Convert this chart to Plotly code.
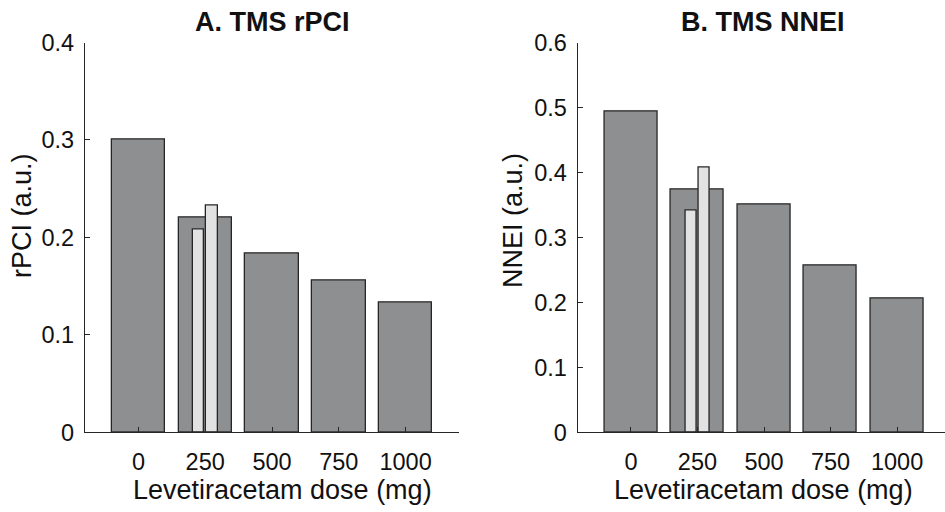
import plotly.graph_objects as go

# Levetiracetam doses (mg) and group means
doses = [0, 250, 500, 750, 1000]
dose_labels = ["0", "250", "500", "750", "1000"]

rpci_mean = [0.300, 0.220, 0.183, 0.156, 0.133]
rpci_250_split = [0.208, 0.233]          # two sub-groups at 250 mg

nnei_mean = [0.494, 0.374, 0.351, 0.256, 0.206]
nnei_250_split = [0.341, 0.408]

split_offsets = [-25, 25]                # mg offset of the two thin bars
split_x = [250 + o for o in split_offsets]

DARK = "#8e8f91"
LIGHT = "#e2e2e2"
EDGE = "#262626"
FONT = "Liberation Sans, Arial, sans-serif"

fig = go.Figure()

def add_panel(xa, ya, means, split):
    fig.add_trace(go.Bar(x=doses, y=means, width=200, marker=dict(color=DARK, line=dict(color=EDGE, width=1.3)),
                         xaxis=xa, yaxis=ya, showlegend=False, hoverinfo="skip"))
    fig.add_trace(go.Bar(x=split_x, y=split, width=42, marker=dict(color=LIGHT, line=dict(color=EDGE, width=1.3)),
                         xaxis=xa, yaxis=ya, showlegend=False, hoverinfo="skip"))

add_panel("x", "y", rpci_mean, rpci_250_split)
add_panel("x2", "y2", nnei_mean, nnei_250_split)

ydom = [1 - 432.3 / 512, 1 - 42.5 / 512]

xcommon = dict(showline=True, linecolor=EDGE, linewidth=1.2, ticks="inside", ticklen=5, tickwidth=1.2,
               tickcolor=EDGE, tickvals=doses, ticktext=dose_labels, showgrid=False, zeroline=False,
               tickfont=dict(family=FONT, size=23.5, color="#111"), ticklabelstandoff=8,
               automargin=False, fixedrange=True)
ycommon = dict(showline=True, linecolor=EDGE, linewidth=1.2, ticks="inside", ticklen=5, tickwidth=1.2,
               tickcolor=EDGE, showgrid=False, zeroline=False,
               tickfont=dict(family=FONT, size=23.5, color="#111"), ticklabelstandoff=5,
               automargin=False, fixedrange=True)

fig.update_layout(
    width=945, height=512, margin=dict(l=0, r=0, t=0, b=0, autoexpand=False),
    paper_bgcolor="white", plot_bgcolor="white", barmode="overlay", bargap=0,
    xaxis=dict(domain=[85 / 945, 459 / 945], range=[-200, 1200], anchor="y", **xcommon),
    yaxis=dict(domain=ydom, range=[0, 0.4], tickvals=[0, 0.1, 0.2, 0.3, 0.4],
               ticktext=["0", "0.1", "0.2", "0.3", "0.4"], anchor="x", **ycommon),
    xaxis2=dict(domain=[577.7 / 945, 1.0], range=[-200, 1180], anchor="y2", **xcommon),
    yaxis2=dict(domain=ydom, range=[0, 0.6], tickvals=[0, 0.1, 0.2, 0.3, 0.4, 0.5, 0.6],
                ticktext=["0", "0.1", "0.2", "0.3", "0.4", "0.5", "0.6"], anchor="x2", **ycommon),
)

def px_x(p):
    return p / 945

def px_y(p):
    return 1 - p / 512

texts = [
    dict(text="<b>A. TMS rPCI</b>", x=px_x(272), y=px_y(22), size=27, angle=0),
    dict(text="<b>B. TMS NNEI</b>", x=px_x(763), y=px_y(22), size=27, angle=0),
    dict(text="Levetiracetam dose (mg)", x=px_x(282), y=px_y(490), size=27, angle=0),
    dict(text="Levetiracetam dose (mg)", x=px_x(763), y=px_y(490), size=27, angle=0),
    dict(text="rPCI (a.u.)", x=px_x(22), y=px_y(216), size=27, angle=-90),
    dict(text="NNEI (a.u.)", x=px_x(513), y=px_y(221), size=27, angle=-90),
]
for t in texts:
    fig.add_annotation(text=t["text"], x=t["x"], y=t["y"], xref="paper", yref="paper",
                       xanchor="center", yanchor="middle", showarrow=False, textangle=t["angle"],
                       font=dict(family=FONT, size=t["size"], color="#111"))

fig.write_html("out.html")
